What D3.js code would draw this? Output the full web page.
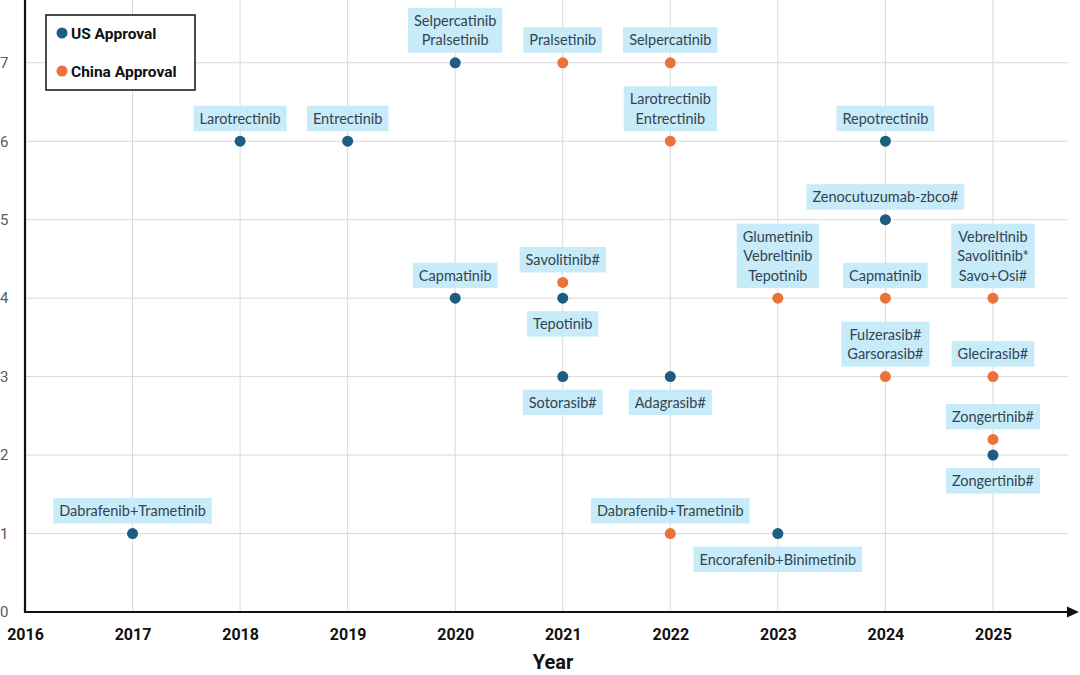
<!DOCTYPE html>
<html>
<head>
<meta charset="utf-8">
<script src="https://cdn.jsdelivr.net/npm/d3@7"></script>
<style>
  body { margin: 0; background: #fff; }
  svg { display: block; }
</style>
</head>
<body>
<div id="chart"></div>
<script>
// US approvals
var usYears  = [2017, 2018, 2019, 2020, 2020, 2021, 2021, 2022, 2023, 2024, 2024, 2025];
var usValues = [1, 6, 6, 7, 4, 4, 3, 3, 1, 6, 5, 2];
var usLabels = [
  ["Dabrafenib+Trametinib"], ["Larotrectinib"], ["Entrectinib"],
  ["Selpercatinib", "Pralsetinib"], ["Capmatinib"], ["Tepotinib"],
  ["Sotorasib#"], ["Adagrasib#"], ["Encorafenib+Binimetinib"],
  ["Repotrectinib"], ["Zenocutuzumab-zbco#"], ["Zongertinib#"]
];
var usSide = ["up", "up", "up", "up", "up", "down", "down", "down", "down", "up", "up", "down"];

// China approvals
var cnYears  = [2021, 2021, 2022, 2022, 2022, 2023, 2024, 2024, 2025, 2025, 2025];
var cnValues = [7, 4.2, 7, 6, 1, 4, 4, 3, 4, 3, 2.2];
var cnLabels = [
  ["Pralsetinib"], ["Savolitinib#"], ["Selpercatinib"],
  ["Larotrectinib", "Entrectinib"], ["Dabrafenib+Trametinib"],
  ["Glumetinib", "Vebreltinib", "Tepotinib"], ["Capmatinib"],
  ["Fulzerasib#", "Garsorasib#"], ["Vebreltinib", "Savolitinib*", "Savo+Osi#"],
  ["Glecirasib#"], ["Zongertinib#"]
];
var cnSide = ["up", "up", "up", "up", "up", "up", "up", "up", "up", "up", "up"];

var yearTicks = [2016, 2017, 2018, 2019, 2020, 2021, 2022, 2023, 2024, 2025];
var valueTicks = [0, 1, 2, 3, 4, 5, 6, 7];

var width = 1080, height = 675;
var usColor = "#1b5e82", cnColor = "#e8743b";

var svg = d3.select("#chart").append("svg")
  .attr("width", width).attr("height", height);

var x = d3.scaleLinear().domain([2016, 2025.8]).range([25, 1079]);
var y = d3.scaleLinear().domain([0, 7.8]).range([612, 0]);

// grid
svg.append("g").selectAll("line")
  .data(yearTicks.slice(1)).enter().append("line")
  .attr("x1", d => x(d)).attr("x2", d => x(d))
  .attr("y1", 0).attr("y2", y(0))
  .attr("stroke", "#d9d9d9").attr("stroke-width", 1);

svg.append("g").selectAll("line")
  .data(valueTicks.slice(1)).enter().append("line")
  .attr("x1", x(2016)).attr("x2", 1068)
  .attr("y1", d => y(d)).attr("y2", d => y(d))
  .attr("stroke", "#d9d9d9").attr("stroke-width", 1);

// y axis labels
var yAxis = d3.axisLeft(y).tickValues(valueTicks).tickSize(0).tickPadding(10);
var yg = svg.append("g").attr("transform", `translate(${x(2016)},0)`).call(yAxis);
yg.select(".domain").remove();
yg.selectAll("text")
  .attr("font-family", "Roboto, sans-serif").attr("font-size", 15)
  .attr("fill", "#595959").attr("text-anchor", "start").attr("x", -25);

// x axis labels
var xAxis = d3.axisBottom(x).tickValues(yearTicks).tickFormat(d3.format("d")).tickSize(0).tickPadding(17);
var xg = svg.append("g").attr("transform", `translate(0,${y(0)})`).call(xAxis);
xg.select(".domain").remove();
xg.selectAll("text")
  .attr("font-family", "Roboto, sans-serif").attr("font-size", 16)
  .attr("font-weight", "bold").attr("fill", "#111");

// axis lines
svg.append("line")
  .attr("x1", x(2016)).attr("x2", x(2016)).attr("y1", 0).attr("y2", y(0) + 1)
  .attr("stroke", "#111").attr("stroke-width", 2.2);
svg.append("line")
  .attr("x1", x(2016)).attr("x2", 1068).attr("y1", y(0)).attr("y2", y(0))
  .attr("stroke", "#111").attr("stroke-width", 2.2);
svg.append("path")
  .attr("d", `M1067,${y(0) - 5.5}L1079,${y(0)}L1067,${y(0) + 5.5}Z`)
  .attr("fill", "#111");

svg.append("text")
  .attr("x", 553).attr("y", 669).attr("text-anchor", "middle")
  .attr("font-family", "Roboto, sans-serif").attr("font-size", 20)
  .attr("font-weight", "bold").attr("fill", "#111").text("Year");

// labels
function build(years, values, labels, sides) {
  return years.map((yr, i) => ({ year: yr, value: values[i], lines: labels[i], side: sides[i] }));
}
var allLabels = build(usYears, usValues, usLabels, usSide)
  .concat(build(cnYears, cnValues, cnLabels, cnSide));

var lineH = 19.5, padX = 6, padY = 4;
var lg = svg.append("g").selectAll("g").data(allLabels).enter().append("g");

lg.each(function(d) {
  var g = d3.select(this);
  var px = x(d.year), py = y(d.value);
  var boxH = d.lines.length * lineH + padY * 2 - 2;
  var top = d.side === "up" ? py - 10 - boxH : py + 13;
  var rect = g.append("rect").attr("fill", "#c8ebf9");
  var maxW = 0;
  d.lines.forEach(function(t, j) {
    var tx = g.append("text")
      .attr("x", px).attr("y", top + padY + j * lineH + 14)
      .attr("text-anchor", "middle")
      .attr("font-family", "Lato, sans-serif").attr("font-size", 14.5)
      .attr("fill", "#33444f").text(t);
    maxW = Math.max(maxW, tx.node().getComputedTextLength());
  });
  rect.attr("x", px - maxW / 2 - padX).attr("y", top)
    .attr("width", maxW + padX * 2).attr("height", boxH);
});

// points
svg.append("g").selectAll("circle")
  .data(usYears.map((d, i) => [d, usValues[i]])).enter().append("circle")
  .attr("cx", d => x(d[0])).attr("cy", d => y(d[1])).attr("r", 5.5)
  .attr("fill", usColor);
svg.append("g").selectAll("circle")
  .data(cnYears.map((d, i) => [d, cnValues[i]])).enter().append("circle")
  .attr("cx", d => x(d[0])).attr("cy", d => y(d[1])).attr("r", 5.5)
  .attr("fill", cnColor);

// legend
var legend = svg.append("g");
legend.append("rect")
  .attr("x", 46).attr("y", 15).attr("width", 149).attr("height", 75)
  .attr("fill", "#fff").attr("stroke", "#111").attr("stroke-width", 1.5);
[["US Approval", usColor, 33], ["China Approval", cnColor, 71]].forEach(function(item) {
  legend.append("circle").attr("cx", 62).attr("cy", item[2]).attr("r", 5.5).attr("fill", item[1]);
  legend.append("text").attr("x", 71).attr("y", item[2] + 5.5)
    .attr("font-family", "Roboto, sans-serif").attr("font-size", 15.5)
    .attr("font-weight", "bold").attr("fill", "#111").text(item[0]);
});
</script>
</body>
</html>
